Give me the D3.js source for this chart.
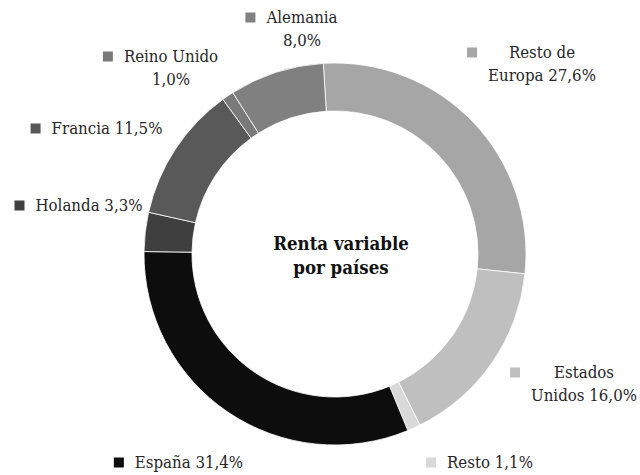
<!DOCTYPE html>
<html>
<head>
<meta charset="utf-8">
<script src="https://cdn.jsdelivr.net/npm/d3@7/dist/d3.min.js"></script>
<style>
  html, body { margin: 0; padding: 0; background: #fff; }
  svg { display: block; }
  .lbl { font-family: "DejaVu Serif Condensed", "DejaVu Serif", serif; font-size: 16.7px; fill: #262626; }
  .title { font-family: "DejaVu Serif Condensed", "DejaVu Serif", serif; font-size: 18.5px; font-weight: bold; fill: #111; }
</style>
</head>
<body>
<svg id="chart" width="640" height="475"></svg>
<script>
// Equity holdings by country (%), clockwise from the top
const countries = ["Resto de Europa", "Estados Unidos", "Resto", "España", "Holanda", "Francia", "Reino Unido", "Alemania"];
const shares    = [27.6, 16.0, 1.1, 31.4, 3.3, 11.5, 1.0, 8.0];
const colors    = ["#a6a6a6", "#bfbfbf", "#d9d9d9", "#0d0d0d", "#3f3f3f", "#595959", "#7a7a7a", "#808080"];
// Label text broken into lines (the value is appended to the last line)
const labelLines = [["Resto de", "Europa"], ["Estados", "Unidos"], ["Resto"], ["España"], ["Holanda"], ["Francia"], ["Reino Unido", ""], ["Alemania", ""]];

// Layout: label block centre x and first baseline y
const labelAnchor = [[542, 58], [584, 378], [490, 468], [189, 468], [89, 211], [107, 134], [171, 62], [302, 23]];

const fmt = v => d3.format(".1f")(v).replace(".", ",") + "%";

const svg = d3.select("#chart");
const cx = 335, cy = 254, rOuter = 191, rInner = 143;
const start = -3.5 * Math.PI / 180;

const pie = d3.pie().sort(null).value(d => d).startAngle(start).endAngle(start + 2 * Math.PI);
const arc = d3.arc().innerRadius(rInner).outerRadius(rOuter);

const g = svg.append("g").attr("transform", `translate(${cx},${cy})`);
g.selectAll("path")
  .data(pie(shares))
  .join("path")
  .attr("d", arc)
  .attr("fill", (d, i) => colors[i])
  .attr("stroke", "#fff")
  .attr("stroke-width", 0.8);

// Centre title
const title = svg.append("text").attr("class", "title").attr("text-anchor", "middle");
title.append("tspan").attr("x", 341).attr("y", 250).text("Renta variable");
title.append("tspan").attr("x", 341).attr("y", 274).text("por países");

// Data labels with colour keys
const lineH = 23;
countries.forEach((name, i) => {
  const lines = labelLines[i].slice();
  const last = lines.length - 1;
  lines[last] = (lines[last] ? lines[last] + " " : "") + fmt(shares[i]);
  const [ax, ay] = labelAnchor[i];
  const t = svg.append("text").attr("class", "lbl").attr("text-anchor", "middle");
  let maxW = 0;
  lines.forEach((s, k) => {
    const ts = t.append("tspan").attr("x", ax).attr("y", ay + k * lineH).text(s);
    maxW = Math.max(maxW, ts.node().getComputedTextLength());
  });
  svg.append("rect")
    .attr("x", ax - maxW / 2 - 21)
    .attr("y", ay - 10.5)
    .attr("width", 10)
    .attr("height", 10)
    .attr("fill", colors[i]);
});
</script>
</body>
</html>
